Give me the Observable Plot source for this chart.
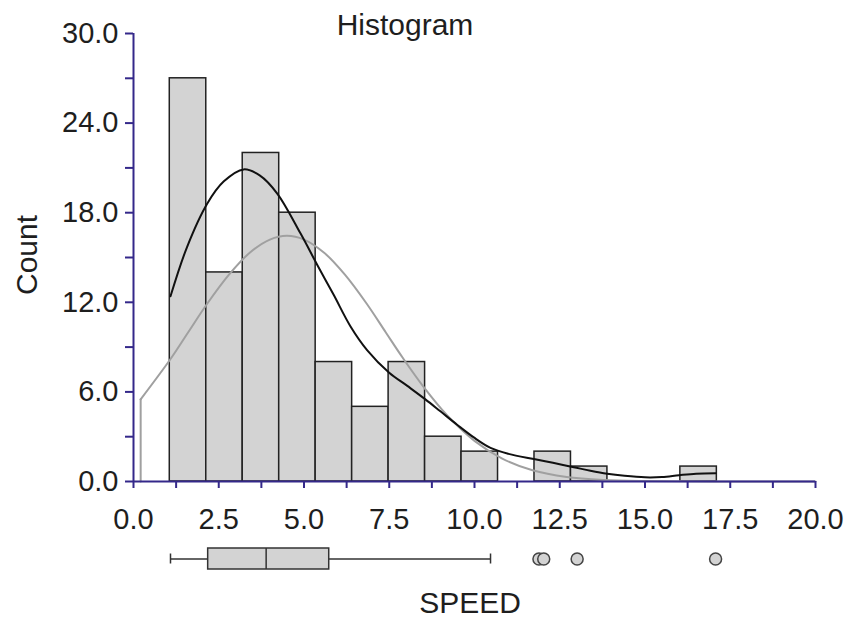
<!DOCTYPE html>
<html>
<head>
<meta charset="utf-8">
<script src="https://cdn.jsdelivr.net/npm/d3@7"></script>
<script src="https://cdn.jsdelivr.net/npm/@observablehq/plot@0.6"></script>
<style>
  body { margin: 0; background: #fff; font-family: "Liberation Sans", Arial, sans-serif; }
  #wrap { position: relative; width: 852px; height: 618px; overflow: hidden; background: #fff; }
  #wrap svg { display: block; }
  .lbl { position: absolute; font-size: 30px; line-height: 30px; color: #1e1e1e; white-space: nowrap; }
</style>
</head>
<body>
<div id="wrap">
  <div id="main"></div>
  <div id="box"></div>
  <span class="lbl" id="title" style="left:405px; top:10px; transform: translateX(-50%);">Histogram</span>
  <span class="lbl" id="ylab" style="left:27px; top:255px; transform: translate(-50%,-50%) rotate(-90deg);">Count</span>
  <span class="lbl" id="xlab" style="left:470px; top:588px; transform: translateX(-50%);">SPEED</span>
</div>
<script>
// ---- data ----
const binEdges = [1.064, 2.134, 3.203, 4.273, 5.342, 6.412, 7.481, 8.551, 9.620, 10.690, 11.759, 12.829, 13.898, 14.968, 16.037, 17.107];
const counts   = [27, 14, 22, 18, 8, 5, 8, 3, 2, 0, 2, 1, 0, 0, 1];

// kernel density (black), scaled to counts
const kdeX = [1.085, 1.57, 2.16, 2.65, 3.23, 3.7, 4.21, 4.9, 5.39, 5.87, 6.36, 6.85, 7.49, 8.03, 8.56, 9.0, 9.49, 9.98, 10.47, 11.0, 11.74, 12.3, 12.91, 13.4, 13.89, 14.4, 15.0, 15.5, 16.0, 16.5, 17.07];
const kdeY = [12.4, 15.7, 18.6, 20.1, 20.9, 20.5, 19.3, 16.6, 14.5, 12.5, 10.4, 8.8, 7.3, 6.4, 5.5, 4.7, 3.8, 2.95, 2.25, 1.85, 1.5, 1.25, 0.96, 0.72, 0.52, 0.38, 0.28, 0.3, 0.42, 0.52, 0.55];

// normal curve (gray), scaled to counts
const normX = [0.21, 1.085, 1.6, 2.16, 2.8, 3.4, 4.0, 4.5, 5.0, 5.6, 6.2, 6.84, 7.4, 7.9, 8.5, 9.2, 10.0, 10.8, 11.7, 12.7, 13.8, 15.0, 17.0, 20.0];
const normY = [5.5, 8.2, 9.98, 11.9, 13.85, 15.3, 16.2, 16.45, 16.2, 15.3, 13.85, 11.9, 9.98, 8.27, 6.36, 4.43, 2.72, 1.55, 0.75, 0.30, 0.10, 0.03, 0.005, 0.0];

// box plot summary
const boxLabel = ["SPEED"];
const boxMin = [1.085], boxQ1 = [2.19], boxMedian = [3.89], boxQ3 = [5.74], boxMax = [10.47];
const outliers = [11.89, 12.03, 13.01, 17.07];

// axis ticks
const xMinorTicks = [0, 1.25, 2.5, 3.75, 5, 6.25, 7.5, 8.75, 10, 11.25, 12.5, 13.75, 15, 16.25, 17.5, 18.75, 20];
const xLabelTicks = [0, 2.5, 5, 7.5, 10, 12.5, 15, 17.5, 20];
const yMinorTicks = [0, 3, 6, 9, 12, 15, 18, 21, 24, 27, 30];
const yLabelTicks = [0, 6, 12, 18, 24, 30];

// ---- build tables ----
const bins = counts.map((c, i) => ({lo: binEdges[i], hi: binEdges[i + 1], count: c})).filter(d => d.count > 0);
const kde = kdeX.map((x, i) => ({x, y: kdeY[i]}));
const norm = normX.map((x, i) => ({x, y: normY[i]}));
const normDrop = [{x: normX[0], y: 0}, {x: normX[0], y: normY[0]}];
const box = boxLabel.map((k, i) => ({k, min: boxMin[i], q1: boxQ1[i], med: boxMedian[i], q3: boxQ3[i], max: boxMax[i]}));
const outl = outliers.map(v => ({k: boxLabel[0], v}));

const axisColor = "#34288a";
const textColor = "#1e1e1e";
const font = "Liberation Sans, Arial, sans-serif";

const main = Plot.plot({
  width: 852, height: 540,
  marginTop: 33, marginRight: 37, marginBottom: 59, marginLeft: 133,
  style: {fontFamily: font, background: "#fff", overflow: "visible"},
  x: {domain: [0, 20]},
  y: {domain: [0, 30]},
  marks: [
    Plot.rectY(bins, {x1: "lo", x2: "hi", y: "count", fill: "#d3d3d3", stroke: "#222", strokeWidth: 1.5}),
    Plot.line(normDrop, {x: "x", y: "y", stroke: "#a0a0a0", strokeWidth: 2}),
    Plot.line(norm, {x: "x", y: "y", curve: "catmull-rom", stroke: "#a0a0a0", strokeWidth: 2}),
    Plot.line(kde, {x: "x", y: "y", curve: "catmull-rom", stroke: "#111", strokeWidth: 2}),
    Plot.ruleY([0], {stroke: axisColor, strokeWidth: 2}),
    Plot.ruleX([0], {stroke: axisColor, strokeWidth: 2}),
    Plot.axisX({ticks: xMinorTicks, tickSize: 7, tickFormat: () => "", stroke: axisColor, strokeWidth: 2, label: null}),
    Plot.axisX({ticks: xLabelTicks, tickSize: 0, tickPadding: 27, tickFormat: d => d.toFixed(1), fontSize: 29, fill: textColor, label: null}),
    Plot.axisY({ticks: yMinorTicks, tickSize: 8, tickFormat: () => "", stroke: axisColor, strokeWidth: 2, label: null}),
    Plot.axisY({ticks: yLabelTicks, tickSize: 0, tickPadding: 15, tickFormat: d => d.toFixed(1), fontSize: 29, fill: textColor, label: null})
  ]
});
document.getElementById("main").appendChild(main);

const boxPlot = Plot.plot({
  width: 852, height: 78,
  marginTop: 8, marginRight: 37, marginBottom: 49, marginLeft: 133,
  style: {fontFamily: font, background: "#fff"},
  x: {domain: [0, 20], axis: null},
  y: {type: "band", domain: boxLabel, padding: 0, axis: null},
  marks: [
    Plot.ruleY(box, {y: "k", x1: "min", x2: "q1", stroke: "#333", strokeWidth: 1.5}),
    Plot.ruleY(box, {y: "k", x1: "q3", x2: "max", stroke: "#333", strokeWidth: 1.5}),
    Plot.tickX(box, {x: "min", y: "k", insetTop: 5.5, insetBottom: 5.5, stroke: "#333", strokeWidth: 1.5}),
    Plot.tickX(box, {x: "max", y: "k", insetTop: 5.5, insetBottom: 5.5, stroke: "#333", strokeWidth: 1.5}),
    Plot.barX(box, {x1: "q1", x2: "q3", y: "k", fill: "#d3d3d3", stroke: "#333", strokeWidth: 1.5}),
    Plot.tickX(box, {x: "med", y: "k", stroke: "#333", strokeWidth: 1.5}),
    Plot.dot(outl, {x: "v", y: "k", r: 6, fill: "#d3d3d3", stroke: "#444", strokeWidth: 1.5})
  ]
});
document.getElementById("box").appendChild(boxPlot);
</script>
</body>
</html>
